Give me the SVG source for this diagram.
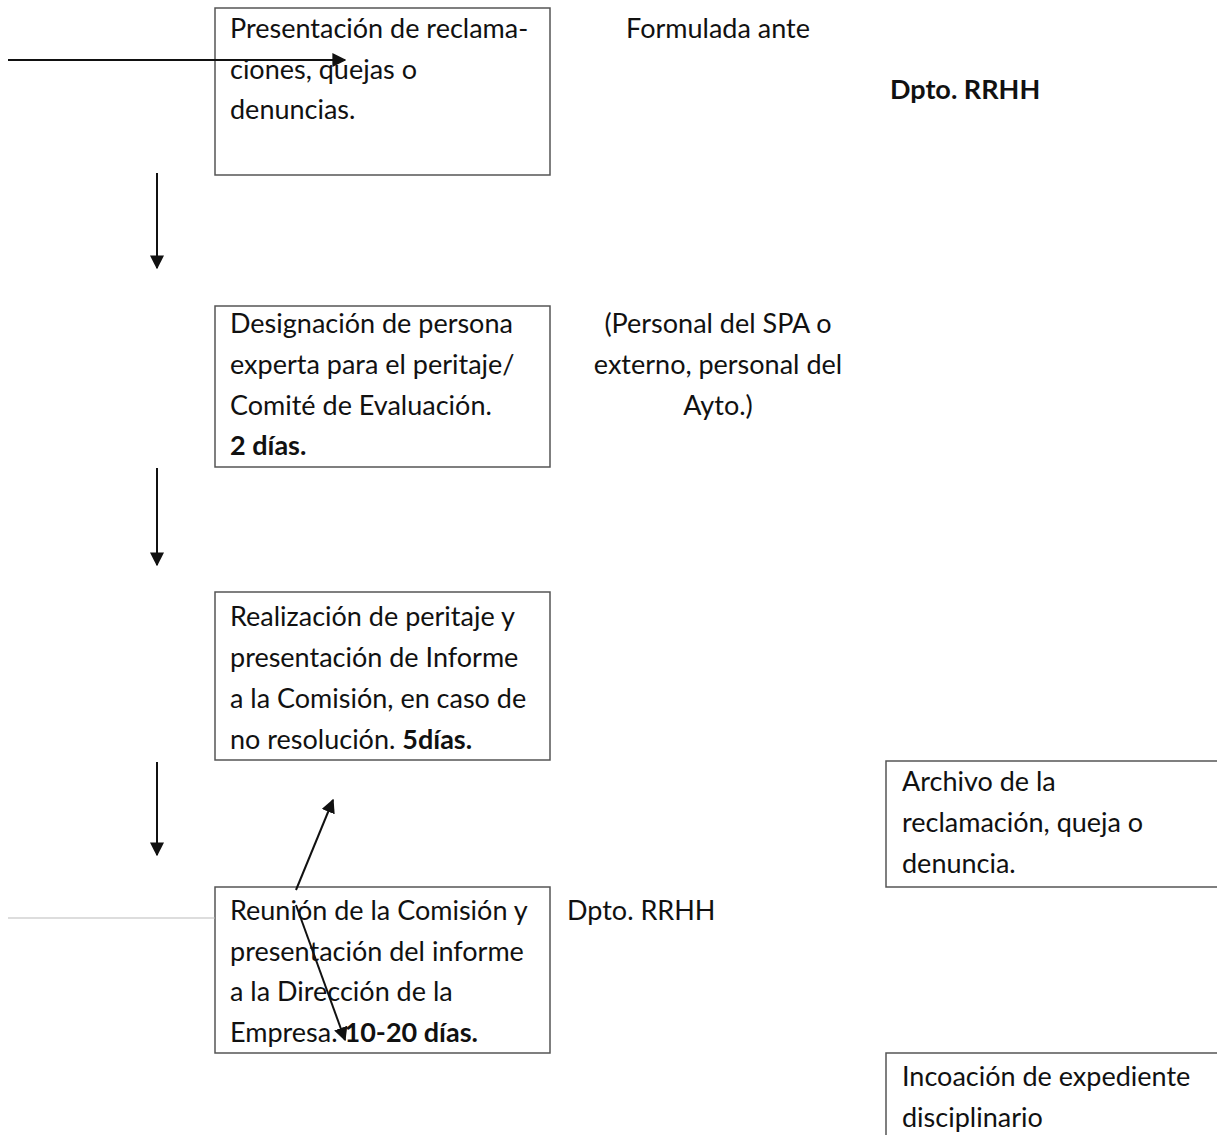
<svg xmlns="http://www.w3.org/2000/svg" width="1217" height="1135" viewBox="0 0 1217 1135">
<defs>
<marker id="ah" viewBox="0 0 10 10" refX="9" refY="5" markerWidth="14" markerHeight="14" markerUnits="userSpaceOnUse" orient="auto">
<path d="M0,0 L10,5 L0,10 z" fill="#111"/>
</marker>
<style>
.box{fill:#fff;stroke:#555;stroke-width:1.5}
.t{font-family:Lato,"Open Sans","Liberation Sans",sans-serif;font-size:27px;fill:#111}
.b{font-weight:bold}
.c{stroke:#111;stroke-width:2;fill:none}
</style>
</defs>
<rect width="1217" height="1135" fill="#fff"/>
<g id="n1">
<rect class="box" x="215" y="8" width="335" height="167"/>
<text class="t" x="230" y="38">Presentación de reclama-</text>
<text class="t" x="230" y="79">ciones, quejas o</text>
<text class="t" x="230" y="119">denuncias.</text>
</g>
<g id="n2">
<rect class="box" x="215" y="306" width="335" height="161"/>
<text class="t" x="230" y="333">Designación de persona</text>
<text class="t" x="230" y="374">experta para el peritaje/</text>
<text class="t" x="230" y="415">Comité de Evaluación.</text>
<text class="t b" x="230" y="455">2 días.</text>
</g>
<g id="n3">
<rect class="box" x="215" y="592" width="335" height="168"/>
<text class="t" x="230" y="626">Realización de peritaje y</text>
<text class="t" x="230" y="667">presentación de Informe</text>
<text class="t" x="230" y="708">a la Comisión, en caso de</text>
<text class="t" x="230" y="749">no resolución. <tspan class="b">5días.</tspan></text>
</g>
<g id="n4">
<rect class="box" x="215" y="887" width="335" height="166"/>
<text class="t" x="230" y="920">Reunión de la Comisión y</text>
<text class="t" x="230" y="961">presentación del informe</text>
<text class="t" x="230" y="1001">a la Dirección de la</text>
<text class="t" x="230" y="1042">Empresa. <tspan class="b">10-20 días.</tspan></text>
</g>
<g id="n5">
<path class="box" d="M1217,761 H886 V887 H1217"/>
<text class="t" x="902" y="791">Archivo de la</text>
<text class="t" x="902" y="832">reclamación, queja o</text>
<text class="t" x="902" y="873">denuncia.</text>
</g>
<g id="n6">
<path class="box" d="M1217,1053 H886 V1135"/>
<text class="t" x="902" y="1086">Incoación de expediente</text>
<text class="t" x="902" y="1127">disciplinario</text>
</g>
<g id="labels">
<text class="t" x="718" y="38" text-anchor="middle">Formulada ante</text>
<text class="t b" x="890" y="99">Dpto. RRHH</text>
<text class="t" x="718" y="333" text-anchor="middle">(Personal del SPA o</text>
<text class="t" x="718" y="374" text-anchor="middle">externo, personal del</text>
<text class="t" x="718" y="415" text-anchor="middle">Ayto.)</text>
<text class="t" x="567" y="920">Dpto. RRHH</text>
</g>
<g id="connectors">
<line x1="8" y1="918" x2="215" y2="918" stroke="#bbb" stroke-width="1"/>
<line class="c" x1="8" y1="60" x2="345" y2="60" marker-end="url(#ah)"/>
<line class="c" x1="157" y1="173" x2="157" y2="268" marker-end="url(#ah)"/>
<line class="c" x1="157" y1="468" x2="157" y2="565" marker-end="url(#ah)"/>
<line class="c" x1="157" y1="762" x2="157" y2="855" marker-end="url(#ah)"/>
<line class="c" x1="296" y1="890" x2="333" y2="800" marker-end="url(#ah)"/>
<line class="c" x1="296" y1="905" x2="345" y2="1040" marker-end="url(#ah)"/>
</g>
</svg>
